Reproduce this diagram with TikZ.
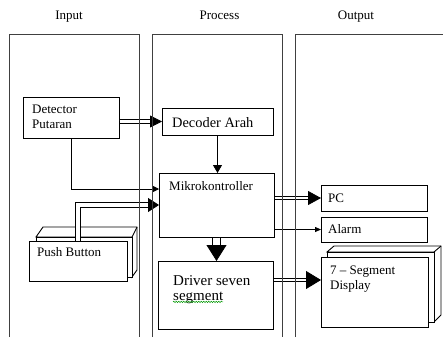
\documentclass[tikz,border=0pt]{standalone}
\usepackage{fontspec}
\setmainfont{Liberation Serif}
\usetikzlibrary{arrows.meta,decorations.pathmorphing}
\begin{document}
\begin{tikzpicture}[x=1pt,y=-1pt,
  col/.style={draw=black!75, line width=1pt},
  box/.style={draw, line width=1pt, fill=white, inner sep=0pt, outer sep=0pt, rectangle},
  txt/.style={inner sep=0pt, anchor=base west, font=\fontsize{13}{15}\selectfont},
  bigtxt/.style={inner sep=0pt, anchor=base west, font=\fontsize{15}{17}\selectfont},
  ln/.style={line width=0.75pt},
  dbl/.style={line width=0.75pt, double distance=2.6pt, shorten <=0.5pt},
  shade/.style={draw, line width=0.9pt, fill=white, line join=miter}
]
\useasboundingbox (0,0) rectangle (443,337);

% headers
\node[txt, anchor=base] (hin) at (69,20) {Input};
\node[txt, anchor=base] (hpr) at (219.5,20) {Process};
\node[txt, anchor=base] (hout) at (356,20) {Output};

% push button stack
\draw[shade] (36,237) -- (43,227) -- (137,227) -- (137,270) -- (132,277) -- (132,237) -- cycle;
\draw[line width=0.9pt] (132,237) -- (137,227);
\draw[shade] (36,237) rectangle (132,277);
\node[box, minimum width=98pt, minimum height=40pt] (pb) at (78,261) {};

% 7-segment stack
\draw[shade] (327,252) -- (334,246) -- (441,246) -- (441,315) -- (434,322) -- (434,252) -- cycle;
\draw[line width=0.9pt] (434,252) -- (441,246);
\draw[shade] (327,252) rectangle (434,322);
\node[box, minimum width=107pt, minimum height=70pt] (seg) at (374.5,292) {};

% boxes
\node[box, minimum width=96pt, minimum height=41pt] (det) at (71,117.5) {};
\node[box, minimum width=111pt, minimum height=27pt] (dec) at (217.5,121.5) {};
\node[box, minimum width=115pt, minimum height=64pt] (mik) at (216.5,205) {};
\node[box, minimum width=115pt, minimum height=68pt] (drv) at (215.5,295) {};
\node[box, minimum width=106pt, minimum height=26pt] (pc) at (374,198) {};
\node[box, minimum width=106pt, minimum height=25pt] (alarm) at (374,229.5) {};

% texts
\node[txt] (tdet1) at (32,113) {Detector};
\node[txt] (tdet2) at (32,128) {Putaran};
\node[txt, font=\fontsize{14.4}{17}\selectfont] (tdec) at (172,127) {Decoder Arah};
\node[txt] (tmik) at (169,190) {Mikrokontroller};
\node[txt] (tpb) at (37,256) {Push Button};
\node[txt] (tpc) at (328,202) {PC};
\node[txt] (talarm) at (328,233) {Alarm};
\node[txt] (tseg1) at (330,274) {7 – Segment};
\node[txt] (tseg2) at (330,289) {Display};
\node[bigtxt] (tdrv1) at (173,285) {Driver seven};
\node[bigtxt] (tdrv2) at (173,300) {segment};
\draw[green!60!black, line width=0.5pt, decorate, decoration={snake, amplitude=0.7pt, segment length=2.5pt}] (tdrv2.south west) ++(0,-1.5) -- ++(50,0);

% connectors
\draw[ln,-{Triangle[length=12pt,width=12pt]}] (dec.west -| det.east) -- (dec.west);
\draw[dbl, shorten >=12pt] (dec.west -| det.east) -- (dec.west);

\draw[ln,-{Triangle[length=8pt,width=9pt]}] (dec.south) -- (dec.south |- mik.north);

\draw[ln,-{Triangle[length=6pt,width=6pt]}] (det.south) |- ([yshift=16pt]mik.west);

\draw[ln,-{Triangle[length=11pt,width=14pt]}] (pb.north) |- (mik.west);
\draw[line width=0.75pt, double distance=4.6pt, shorten >=11pt, shorten <=0.5pt] (pb.north) |- (mik.west);

\draw[ln,-{Triangle[length=13pt,width=14pt]}] (pc.west -| mik.east) -- (pc.west);
\draw[dbl, shorten >=13pt] (pc.west -| mik.east) -- (pc.west);

\draw[ln,-{Triangle[length=6pt,width=5pt]}] (alarm.west -| mik.east) -- (alarm.west);

\draw[ln,-{Triangle[length=16pt,width=20pt]}] (mik.south) -- (mik.south |- drv.north);
\draw[line width=0.75pt, double distance=7pt, shorten >=16pt, shorten <=0.5pt] (mik.south) -- (mik.south |- drv.north);

\draw[ln,-{Triangle[length=15pt,width=18pt]}] ([yshift=12pt]seg.west -| drv.east) -- ([yshift=12pt]seg.west);
\draw[dbl, shorten >=15pt] ([yshift=12pt]seg.west -| drv.east) -- ([yshift=12pt]seg.west);

% columns
\draw[col] (9,337) |- (139,35) -- (139,337);
\draw[col] (152,337) |- (282,35) -- (282,337);
\draw[col] (295,337) |- (445,35);
\end{tikzpicture}
\end{document}
